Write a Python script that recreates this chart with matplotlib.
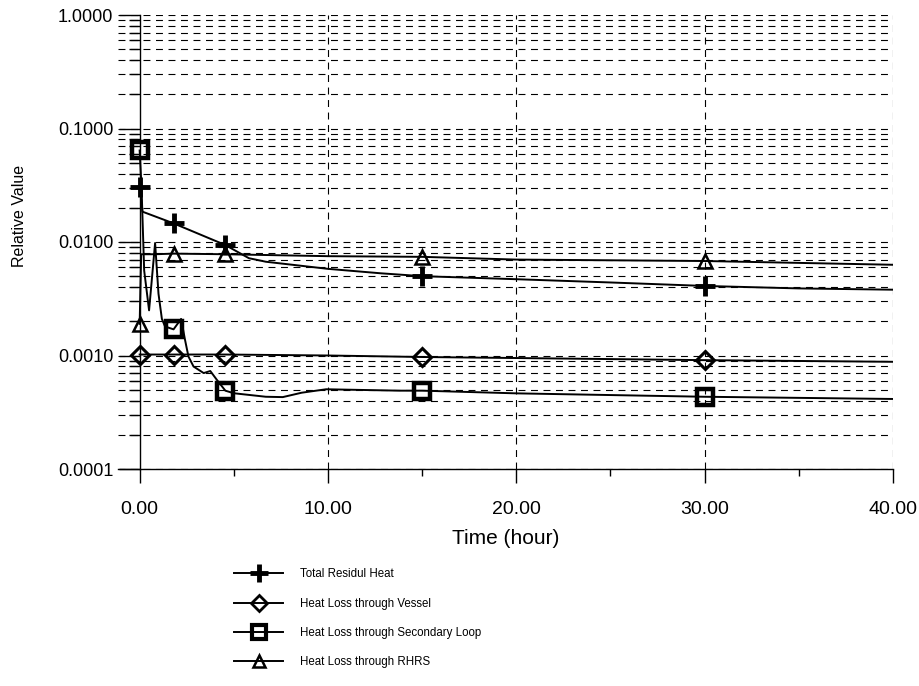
import matplotlib
matplotlib.use("Agg")
import matplotlib.pyplot as plt
from matplotlib.ticker import FixedLocator, FuncFormatter, NullFormatter
import numpy as np

plt.rcParams['font.family'] = ['Liberation Sans', 'DejaVu Sans']
plt.rcParams['lines.scale_dashes'] = False

# ---- data ----
labels = ["Total Residul Heat", "Heat Loss through Vessel",
          "Heat Loss through Secondary Loop", "Heat Loss through RHRS"]

total_t = [0.0, 0.02, 0.15, 1.8, 4.55, 5.8, 6.7, 10.0, 12.8, 15.0, 20.0, 25.0, 30.0, 35.0, 40.0]
total_v = [0.0307, 0.030, 0.0185, 0.0146, 0.0094, 0.0072, 0.0067, 0.0058, 0.0053, 0.0050, 0.0047, 0.0044, 0.0041, 0.0039, 0.0038]

vessel_t = [0.0, 1.8, 4.55, 10.0, 15.0, 20.0, 30.0, 40.0]
vessel_v = [0.00102, 0.00102, 0.00102, 0.00100, 0.00097, 0.00095, 0.00091, 0.00088]

second_t = [0.0, 0.1, 0.24, 0.5, 0.82, 1.0, 1.18, 1.35, 1.8, 2.2, 2.41, 2.59, 2.86, 3.4, 3.75, 4.1, 4.55,
            5.0, 6.7, 7.6, 8.6, 9.9, 13.8, 15.0, 20.0, 30.0, 40.0]
second_v = [0.064, 0.030, 0.0056, 0.0025, 0.0098, 0.0035, 0.0021, 0.0018, 0.0017, 0.0021, 0.00137, 0.00098,
            0.00080, 0.00070, 0.00073, 0.00061, 0.00049,
            0.000465, 0.000433, 0.00043, 0.00047, 0.000504, 0.00049, 0.00049, 0.000464, 0.000433, 0.000414]

rhrs_t = [0.0, 0.08, 0.82, 1.8, 4.55, 10.0, 15.0, 20.0, 30.0, 40.0]
rhrs_v = [0.0019, 0.0078, 0.0078, 0.0079, 0.0078, 0.0075, 0.0074, 0.0070, 0.0068, 0.0063]

marker_t = [0.0, 1.8, 4.55, 15.0, 30.0]
total_m = [0.0307, 0.0146, 0.0094, 0.0050, 0.0041]
vessel_m = [0.00102, 0.00102, 0.00102, 0.00097, 0.00091]
second_m = [0.064, 0.0017, 0.00049, 0.00049, 0.00043]
rhrs_m = [0.0019, 0.0079, 0.0078, 0.0074, 0.0068]

x_ticks = [0, 10, 20, 30, 40]
x_minor = [5, 15, 25, 35]
y_ticks = [1e-4, 1e-3, 1e-2, 1e-1, 1.0]

# ---- figure ----
fig = plt.figure(figsize=(9.2, 6.86), dpi=100)
ax = fig.add_axes([118 / 920, 1 - 469 / 686, (893 - 118) / 920, (469 - 15) / 686])
ax.set_yscale('log')
ax.set_xlim(-1.15, 40)
ax.set_ylim(1e-4, 1.0)

for s in ['top', 'right']:
    ax.spines[s].set_visible(False)
ax.spines['left'].set_position(('data', 0))
ax.spines['left'].set_linewidth(1.0)
ax.spines['bottom'].set_linewidth(1.0)

# grids
ax.yaxis.set_major_locator(FixedLocator(y_ticks))
minors = [m * 10.0 ** e for e in range(-4, 0) for m in range(2, 10)]
ax.yaxis.set_minor_locator(FixedLocator(minors))
ax.yaxis.set_minor_formatter(NullFormatter())
ax.yaxis.set_major_formatter(FuncFormatter(lambda v, p: f"{v:.4f}"))
ax.xaxis.set_major_locator(FixedLocator(x_ticks))
ax.xaxis.set_minor_locator(FixedLocator(x_minor))
ax.xaxis.set_major_formatter(FuncFormatter(lambda v, p: f"{v:.2f}"))

ax.grid(True, which='both', axis='y', color='black', lw=0.8, dashes=(5, 4))
for xv in x_ticks[1:]:
    ax.axvline(xv, color='black', lw=0.8, dashes=(5, 4))

ax.tick_params(axis='y', which='major', direction='out', length=15, width=1.0, pad=4, labelsize=13)
ax.tick_params(axis='y', which='minor', direction='out', length=8, width=1.0)
ax.tick_params(axis='x', which='major', direction='out', length=10, width=1.0, pad=13, labelsize=14)
ax.tick_params(axis='x', which='minor', direction='out', length=5, width=1.0)

lw = 1.4
ax.plot(total_t, total_v, color='black', lw=lw)
ax.plot(vessel_t, vessel_v, color='black', lw=lw)
ax.plot(second_t, second_v, color='black', lw=lw)
ax.plot(rhrs_t, rhrs_v, color='black', lw=lw)

ax.plot(marker_t, total_m, ls='none', marker='+', ms=15, mew=3.5, color='black')
ax.plot(marker_t, vessel_m, ls='none', marker='D', ms=9, mew=2.2, mfc='none', color='black')
ax.plot(marker_t, second_m, ls='none', marker='s', ms=12, mew=3.2, mfc='none', color='black')
ax.plot(marker_t, rhrs_m, ls='none', marker='^', ms=10, mew=1.8, mfc='none', color='black')

ax.set_xlabel("Time (hour)", fontsize=15, labelpad=8)
ax.set_ylabel("Relative Value", fontsize=11.5)
ax.yaxis.set_label_coords(-0.117, 0.557)

# legend
h1, = ax.plot([], [], color='black', lw=lw, marker='+', ms=13, mew=3.5)
h2, = ax.plot([], [], color='black', lw=lw, marker='D', ms=8, mew=2, mfc='none')
h3, = ax.plot([], [], color='black', lw=lw, marker='s', ms=10, mew=3, mfc='none')
h4, = ax.plot([], [], color='black', lw=lw, marker='^', ms=8, mew=1.8, mfc='none')
fig.legend([h1, h2, h3, h4], labels, loc='upper left', bbox_to_anchor=(224 / 920, 1 - 558 / 686),
           frameon=False, fontsize=8.3, handlelength=4.2, handletextpad=1.5, labelspacing=1.5,
           numpoints=1)

fig.savefig("out.png", dpi=100)
